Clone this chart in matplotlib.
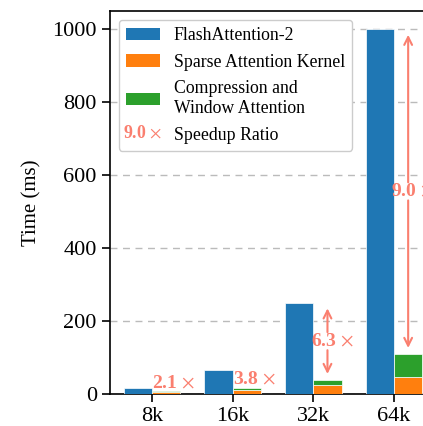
import matplotlib
matplotlib.use("Agg")
import matplotlib.pyplot as plt
from matplotlib.legend_handler import HandlerBase
from matplotlib.patches import Patch
from matplotlib.text import Text

plt.rcParams["font.family"] = ["Liberation Serif", "DejaVu Serif"]
plt.rcParams["mathtext.fontset"] = "stix"

seq_lens = ["8k", "16k", "32k", "64k"]
flash_attn = [17, 66, 250, 1000]
sparse_kernel = [5.5, 12, 25, 47]
comp_window = [2.6, 5.4, 14.7, 64]
speedups = [2.1, 3.8, 6.3, 9.0]

c_blue = "#1f77b4"
c_orange = "#ff7f0e"
c_green = "#2ca02c"
c_ratio = "#fa7f6f"


def ratio_text(r):
    return f"{r:.1f}" + r"$\,\times$"


class RatioLabel:
    def __init__(self, text):
        self.text = text


class RatioHandler(HandlerBase):
    def create_artists(self, legend, orig_handle, xdescent, ydescent,
                       width, height, fontsize, trans):
        t = Text(width / 2 - xdescent, height / 2 - ydescent, orig_handle.text,
                 ha="center", va="center", color=c_ratio, fontsize=fontsize,
                 fontweight="bold", transform=trans)
        return [t]


fig = plt.figure(figsize=(4.23, 4.26), dpi=100)
ax = fig.add_axes([110 / 423, 32 / 426, 326 / 423, 383 / 426])

x = list(range(len(seq_lens)))
w = 0.35
left = [i - w / 2 for i in x]
right = [i + w / 2 for i in x]

ax.bar(left, flash_attn, width=w, color=c_blue, edgecolor="white", linewidth=0.5, zorder=3)
ax.bar(right, sparse_kernel, width=w, color=c_orange, edgecolor="white", linewidth=0.5, zorder=3)
ax.bar(right, comp_window, width=w, bottom=sparse_kernel, color=c_green,
       edgecolor="white", linewidth=0.5, zorder=3)

ax.yaxis.grid(True, linestyle=(0, (5, 4)), color="#bbbbbb", linewidth=1.0, zorder=0)
ax.set_axisbelow(True)

# speedup ratio annotations
fs_ratio = 14
for i, r in enumerate(speedups):
    total = sparse_kernel[i] + comp_window[i]
    label = ratio_text(r)
    if i < 2:
        ax.annotate(label, xy=(right[i] - w / 2, total), xytext=(0, 0),
                    textcoords="offset points", ha="left", va="bottom",
                    color=c_ratio, fontsize=fs_ratio, fontweight="bold", zorder=5,
                    annotation_clip=False)
        continue
    mid = (total + flash_attn[i]) / 2
    ax.annotate(label, xy=(right[i], mid), xytext=(3.5, 0), textcoords="offset points",
                ha="center", va="center", color=c_ratio, fontsize=fs_ratio,
                fontweight="bold", zorder=5, annotation_clip=False)
    arrow = dict(arrowstyle="->", color=c_ratio, lw=1.5, shrinkA=6.5, shrinkB=4,
                 mutation_scale=14)
    for top in (flash_attn[i], total):
        ax.annotate("", xy=(right[i], top), xytext=(right[i], mid),
                    arrowprops=arrow, zorder=5, annotation_clip=False)

ax.set_xlim(-0.52, 3.52)
ax.set_ylim(0, 1050)
ax.set_xticks(x)
ax.set_xticklabels(seq_lens)
ax.set_yticks([0, 200, 400, 600, 800, 1000])
ax.tick_params(axis="both", labelsize=16, direction="out", length=6, width=1.2)
ax.set_ylabel("Time (ms)", fontsize=15, labelpad=8)
for s in ax.spines.values():
    s.set_linewidth(1.2)

handles = [
    Patch(facecolor=c_blue),
    Patch(facecolor=c_orange),
    Patch(facecolor=c_green),
    RatioLabel(ratio_text(speedups[-1])),
]
labels = ["FlashAttention-2", "Sparse Attention Kernel",
          "Compression and\nWindow Attention", "Speedup Ratio"]
ax.legend(handles, labels, loc="upper left", fontsize=12.75, framealpha=1,
          edgecolor="#cccccc", handlelength=1.9, labelspacing=0.55,
          handler_map={RatioLabel: RatioHandler()})

fig.savefig("out.png", dpi=100)
